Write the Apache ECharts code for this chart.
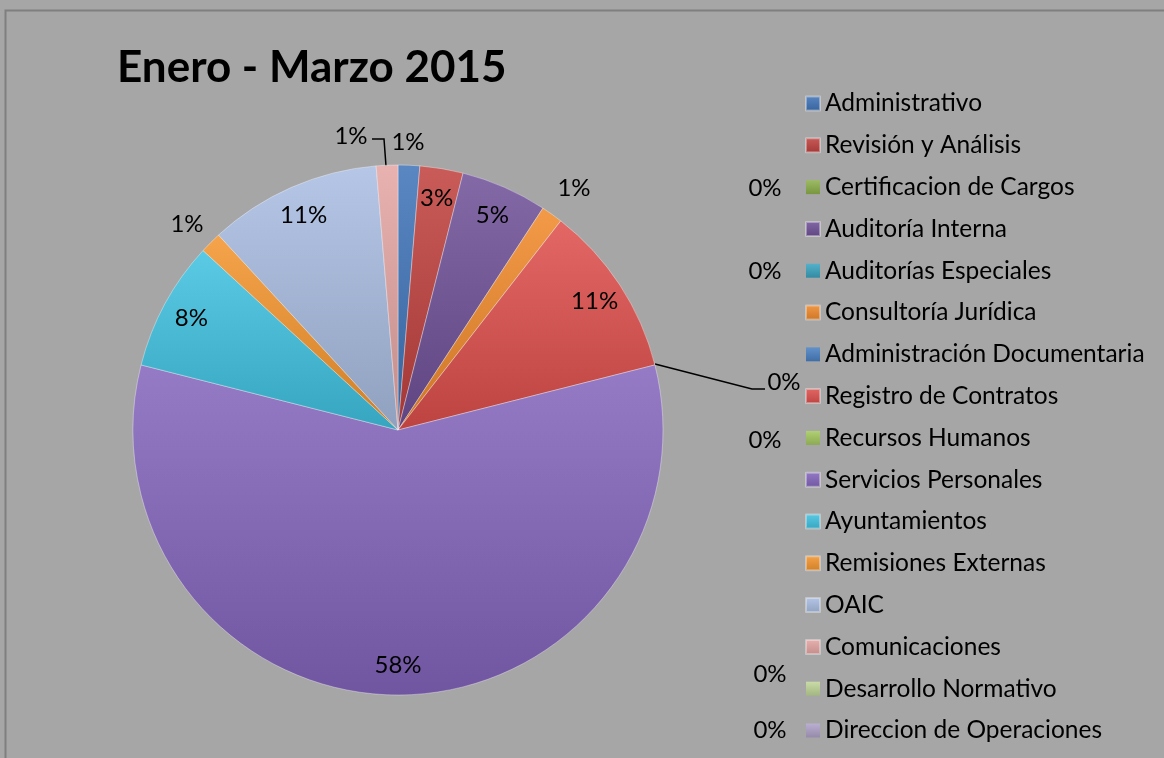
<!DOCTYPE html>
<html>
<head>
<meta charset="utf-8">
<script src="https://cdn.jsdelivr.net/npm/echarts@6/dist/echarts.min.js"></script>
<style>
  html, body { margin: 0; padding: 0; background: #a6a6a6; }
  #chart { width: 1164px; height: 758px; }
</style>
</head>
<body>
<div id="chart"></div>
<script>
// ---- data ----
const categories = [
  'Administrativo', 'Revisión y Análisis', 'Certificacion de Cargos', 'Auditoría Interna',
  'Auditorías Especiales', 'Consultoría Jurídica', 'Administración Documentaria', 'Registro de Contratos',
  'Recursos Humanos', 'Servicios Personales', 'Ayuntamientos', 'Remisiones Externas',
  'OAIC', 'Comunicaciones', 'Desarrollo Normativo', 'Direccion de Operaciones'
];
const values = [1, 2, 0, 4, 0, 1, 0, 8, 0, 44, 6, 1, 8, 1, 0, 0];
const colors = [
  '#3f74b8', '#c0413e', '#8db04b', '#6f5098',
  '#39a4c0', '#f08a2a', '#4a80c2', '#de4f4c',
  '#a4c85f', '#8464bd', '#40c2e1', '#f4952e',
  '#a9bde2', '#e4a5a4', '#c0d699', '#b0a2c9'
];
const titleText = 'Enero - Marzo 2015';

// ---- layout config (label placements for small / zero slices, as in the original) ----
const labelSpots = {
  'Administrativo': { x: 408, y: 142 },
  'Consultoría Jurídica': { x: 574, y: 188 },
  'Remisiones Externas': { x: 187, y: 224 },
  'Comunicaciones': { x: 351, y: 136, line: [[386, 166], [384, 139], [372, 139]] },
  'Certificacion de Cargos': { x: 765, y: 188 },
  'Auditorías Especiales': { x: 765, y: 271 },
  'Administración Documentaria': { x: 784, y: 382, line: [[655, 364], [752, 389], [765, 389]] },
  'Recursos Humanos': { x: 765, y: 440 },
  'Desarrollo Normativo': { x: 770, y: 674 },
  'Direccion de Operaciones': { x: 770, y: 730 }
};

function shade(hex, amt) {
  const n = parseInt(hex.slice(1), 16);
  let r = (n >> 16) & 255, g = (n >> 8) & 255, b = n & 255;
  const f = c => amt >= 0 ? Math.round(c + (255 - c) * amt) : Math.round(c * (1 + amt));
  return 'rgb(' + f(r) + ',' + f(g) + ',' + f(b) + ')';
}
function grad(hex) {
  return {
    type: 'linear', x: 0, y: 0, x2: 0, y2: 1,
    colorStops: [
      { offset: 0, color: shade(hex, 0.14) },
      { offset: 1, color: shade(hex, -0.15) }
    ]
  };
}

const CENTER = [398, 430];
const R = 265;
const FONT = 'Lato';

const pieData = categories.map((name, i) => ({
  name: name,
  value: values[i],
  itemStyle: {
    color: grad(colors[i]),
    borderColor: 'rgba(255,255,255,0.35)',
    borderWidth: values[i] > 0 ? 1 : 0
  }
}));

const labelData = categories.map((name, i) => {
  const spot = labelSpots[name];
  const item = { name: name, value: values[i] };
  if (spot) {
    item.label = { position: 'outside' };
    item.labelLine = { show: !!spot.line };
  }
  return item;
});

const chart = echarts.init(document.getElementById('chart'));
chart.setOption({
  backgroundColor: '#a6a6a6',
  animation: false,
  title: {
    text: titleText,
    left: 117,
    top: 46,
    padding: 0,
    textStyle: { fontFamily: FONT, fontSize: 44, fontWeight: 'bold', color: '#000' }
  },
  legend: {
    type: 'plain',
    orient: 'vertical',
    left: 805,
    top: 91,
    padding: 0,
    itemWidth: 14,
    itemHeight: 14,
    itemGap: 16.8,
    icon: 'rect',
    data: categories,
    textStyle: { fontFamily: FONT, fontSize: 24.5, color: '#000' }
  },
  graphic: [{
    type: 'rect',
    shape: { x: 5.5, y: 10.5, width: 2000, height: 2000 },
    style: { fill: 'none', stroke: '#7f7f7f', lineWidth: 2 },
    silent: true,
    z: -1
  }],
  series: [
    {
      type: 'pie',
      center: CENTER,
      radius: [0, R],
      startAngle: 90,
      clockwise: true,
      silent: true,
      label: { show: false },
      labelLine: { show: false },
      data: pieData
    },
    {
      type: 'pie',
      center: CENTER,
      radius: [R * 0.75, R],
      startAngle: 90,
      clockwise: true,
      silent: true,
      avoidLabelOverlap: false,
      percentPrecision: 0,
      itemStyle: { color: 'rgba(0,0,0,0)' },
      label: {
        show: true,
        position: 'inside',
        formatter: '{d}%',
        fontFamily: FONT,
        fontSize: 24,
        color: '#000'
      },
      labelLine: { show: false, lineStyle: { color: '#000', width: 1.5 } },
      labelLayout: function (params) {
        const spot = labelSpots[categories[params.dataIndex]];
        if (!spot) return {};
        const out = { x: spot.x, y: spot.y, align: 'center', verticalAlign: 'middle' };
        if (spot.line) out.labelLinePoints = spot.line;
        return out;
      },
      data: labelData
    }
  ]
});
</script>
</body>
</html>
